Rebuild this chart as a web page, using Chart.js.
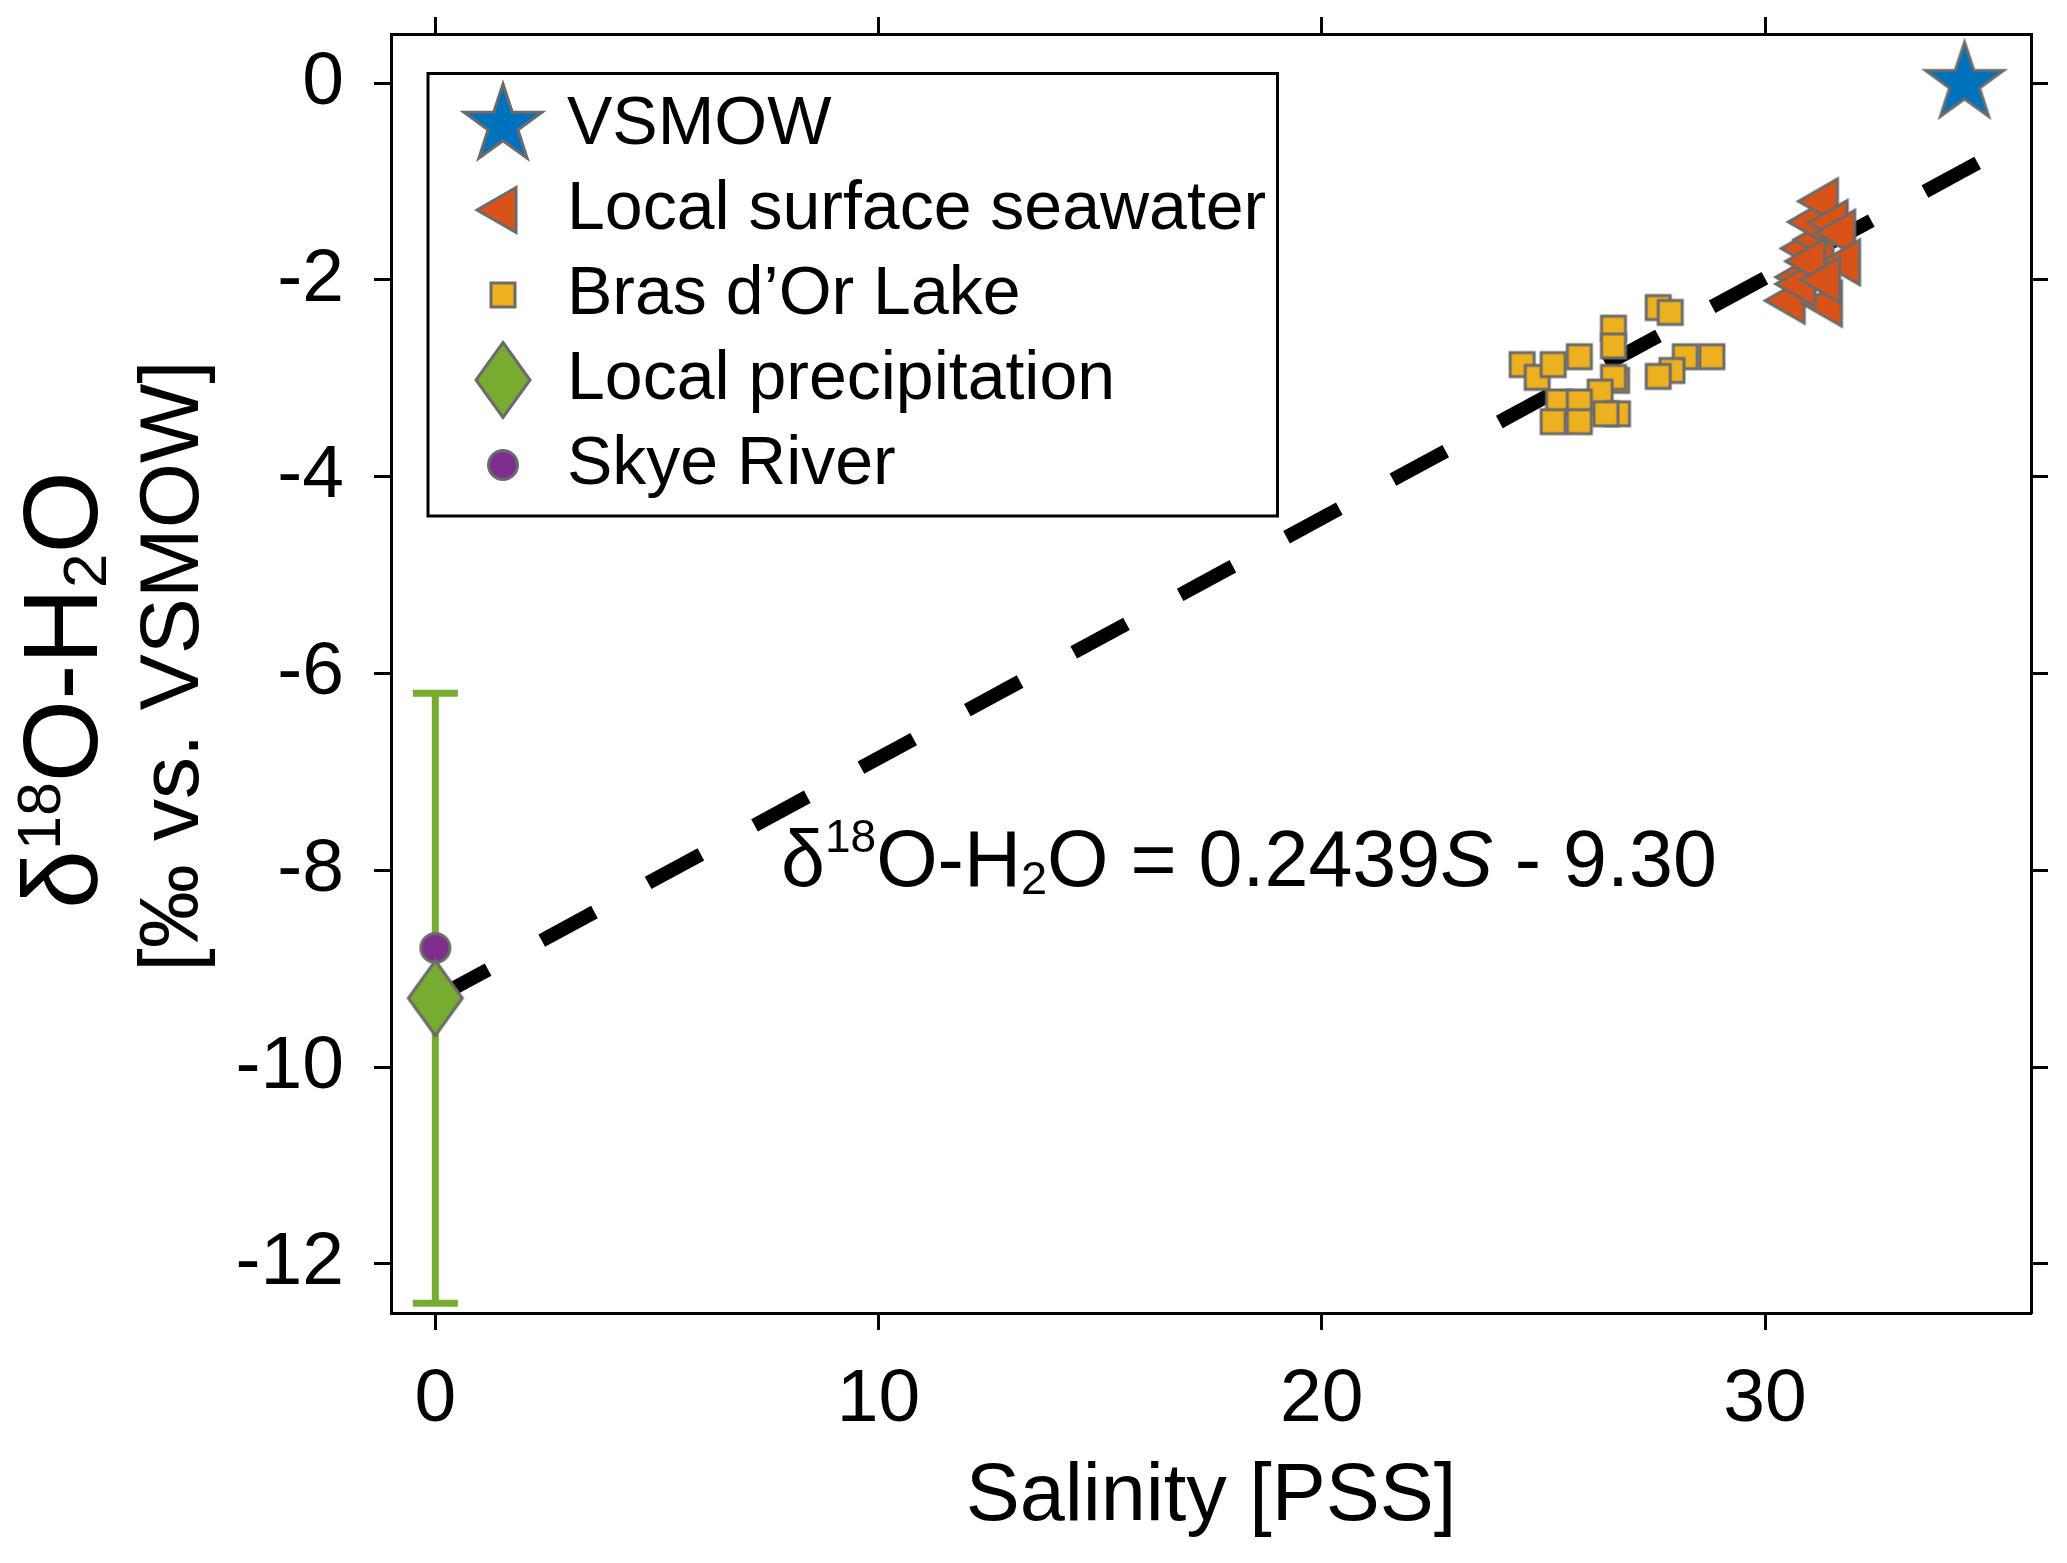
<!DOCTYPE html>
<html>
<head>
<meta charset="utf-8">
<title>Salinity vs d18O</title>
<script src="https://cdn.jsdelivr.net/npm/chart.js@4.4.1/dist/chart.umd.min.js"></script>
<style>
  html, body { margin: 0; padding: 0; background: #fff; overflow: hidden; }
  canvas { display: block; }
</style>
</head>
<body>
<canvas id="chart" width="2067" height="1563"></canvas>
<script>
// ==============================
// データ
// ==============================
const xTickVals = [0, 10, 20, 30];
const yTickVals = [-12, -10, -8, -6, -4, -2, 0];

const vsmowX = [34.5];
const vsmowY = [0];

const seawaterX = [30.59, 31.43, 30.83, 30.95, 31.24, 31.11, 31.34, 31.56, 31.73, 31.84, 30.83, 31.05, 31.39];
const seawaterY = [-2.21, -2.24, -1.97, -1.68, -1.59, -1.41, -1.20, -1.42, -1.52, -1.82, -2.04, -1.81, -2.00];

const lakeX = [24.52, 24.86, 25.22, 25.81, 26.58, 26.58, 27.59, 27.86, 28.20, 28.80,
               27.90, 27.59, 26.65, 26.58, 26.28, 25.34, 25.81, 25.22, 25.81, 26.67, 26.41];
const lakeY = [-2.86, -2.99, -2.86, -2.78, -2.49, -2.67, -2.28, -2.33, -2.78, -2.78,
               -2.92, -2.98, -3.02, -2.99, -3.14, -3.24, -3.24, -3.44, -3.44, -3.36, -3.36];

const precipX = [0];
const precipY = [-9.3];
const precipErrLow = [-12.4];
const precipErrHigh = [-6.2];

const skyeX = [0];
const skyeY = [-8.79];

// 回帰直線 δ18O-H2O = 0.2439S - 9.30
const fitX = [0, 34.8];
const fitY = [-9.30, -0.81];

const seriesNames = ["VSMOW", "Local surface seawater", "Bras d\u2019Or Lake", "Local precipitation", "Skye River"];

// ==============================
// 見た目
// ==============================
const FONT = '"Liberation Sans", Arial, Helvetica, sans-serif';
const EDGE = "#6b6b6b";

Chart.defaults.font.family = FONT;
Chart.defaults.color = "#000";

function toPoints(xs, ys) {
  return xs.map((x, i) => ({ x: x, y: ys[i] }));
}

// マーカー画像（凡例と散布点で共用）
function makeMarker(shape, fill) {
  const sizes = { star: [96, 96], tri: [64, 64], square: [34, 34], diamond: [64, 86], circle: [38, 38] };
  const [w, h] = sizes[shape];
  const c = document.createElement("canvas");
  c.width = w;
  c.height = h;
  const ctx = c.getContext("2d");
  ctx.translate(w / 2, h / 2);
  ctx.beginPath();
  if (shape === "star") {
    for (let i = 0; i < 10; i++) {
      const a = -Math.PI / 2 + i * Math.PI / 5;
      const r = i % 2 ? 15.8 : 41;
      ctx.lineTo(r * Math.cos(a), r * Math.sin(a));
    }
  } else if (shape === "tri") {
    const R = 26;
    for (let i = 0; i < 3; i++) {
      const a = Math.PI + i * 2 * Math.PI / 3;
      ctx.lineTo(R * Math.cos(a), R * Math.sin(a));
    }
  } else if (shape === "square") {
    ctx.rect(-12, -12, 24, 24);
  } else if (shape === "diamond") {
    ctx.moveTo(0, -37.5);
    ctx.lineTo(27, 0);
    ctx.lineTo(0, 37.5);
    ctx.lineTo(-27, 0);
  } else {
    ctx.arc(0, 0, 14.5, 0, Math.PI * 2);
  }
  ctx.closePath();
  ctx.fillStyle = fill;
  ctx.fill();
  ctx.lineWidth = 3;
  ctx.lineJoin = "miter";
  ctx.strokeStyle = EDGE;
  ctx.stroke();
  return c;
}

const markStar = makeMarker("star", "#0072BD");
const markTri = makeMarker("tri", "#D95319");
const markSquare = makeMarker("square", "#EDB120");
const markDiamond = makeMarker("diamond", "#77AC30");
const markCircle = makeMarker("circle", "#7E2F8E");

// ==============================
// プラグイン
// ==============================
// 誤差棒（降水）
const errorBars = {
  id: "errorBars",
  beforeDatasetsDraw(chart) {
    const { ctx, scales } = chart;
    ctx.save();
    ctx.strokeStyle = "#77AC30";
    ctx.lineWidth = 7;
    precipX.forEach((xv, i) => {
      const px = scales.x.getPixelForValue(xv);
      const lo = scales.y.getPixelForValue(precipErrLow[i]);
      const hi = scales.y.getPixelForValue(precipErrHigh[i]);
      ctx.beginPath();
      ctx.moveTo(px, lo);
      ctx.lineTo(px, hi);
      ctx.moveTo(px - 22.5, lo);
      ctx.lineTo(px + 22.5, lo);
      ctx.moveTo(px - 22.5, hi);
      ctx.lineTo(px + 22.5, hi);
      ctx.stroke();
    });
    ctx.restore();
  }
};

// 凡例を描画領域の左上へ
const legendMove = {
  id: "legendMove",
  afterLayout(chart) {
    const lg = chart.legend;
    if (!lg) return;
    lg.left = 456;
    lg.top = 74;
    lg.right = 1300;
    lg.bottom = 600;
    lg.width = lg.right - lg.left;
    lg.height = lg.bottom - lg.top;
  },
  afterDraw(chart) {
    const ctx = chart.ctx;
    ctx.save();
    ctx.strokeStyle = "#000";
    ctx.lineWidth = 3;
    ctx.strokeRect(428, 73.5, 849.5, 442.5);
    ctx.restore();
  }
};

// 上付き・下付きを含む文字列
function richWidth(ctx, segs) {
  let w = 0;
  segs.forEach(s => {
    ctx.font = `${s.italic ? "italic " : ""}${s.size}px ${FONT}`;
    w += ctx.measureText(s.text).width;
  });
  return w;
}

function drawRich(ctx, segs, x, y) {
  let cx = x;
  segs.forEach(s => {
    ctx.font = `${s.italic ? "italic " : ""}${s.size}px ${FONT}`;
    ctx.fillText(s.text, cx, y - (s.dy || 0));
    cx += ctx.measureText(s.text).width;
  });
}

const yTitle1 = [
  { text: "\u03b4", size: 106 },
  { text: "18", size: 61, dy: 37 },
  { text: "O-H", size: 106 },
  { text: "2", size: 62, dy: -9 },
  { text: "O", size: 106 }
];
const yTitle2 = [{ text: "[\u2030 vs. VSMOW]", size: 84 }];
const equation = [
  { text: "\u03b4", size: 79 },
  { text: "18", size: 46, dy: 34 },
  { text: "O-H", size: 79 },
  { text: "2", size: 47, dy: -8 },
  { text: "O = 0.2439", size: 79 },
  { text: "S", size: 79, italic: true },
  { text: " - 9.30", size: 79 }
];

const labelText = {
  id: "labelText",
  afterDraw(chart) {
    const ctx = chart.ctx;
    ctx.save();
    ctx.fillStyle = "#000";
    ctx.textAlign = "left";
    ctx.textBaseline = "alphabetic";

    // 縦軸タイトル（2行）
    [[yTitle1, 97, 690], [yTitle2, 198, 666]].forEach(([segs, bx, cy]) => {
      ctx.save();
      ctx.translate(bx, cy);
      ctx.rotate(-Math.PI / 2);
      drawRich(ctx, segs, -richWidth(ctx, segs) / 2, 0);
      ctx.restore();
    });

    // 回帰式
    drawRich(ctx, equation, 781, 886);
    ctx.restore();
  }
};

// ==============================
// 軸
// ==============================
function fixTicks(vals) {
  return scale => { scale.ticks = vals.map(v => ({ value: v })); };
}

// 軸の太さを固定し、ラベル用の余白を消す
function fixSize(prop, size) {
  return scale => {
    scale[prop] = size;
    scale.paddingTop = 0;
    scale.paddingBottom = 0;
    scale.paddingLeft = 0;
    scale.paddingRight = 0;
  };
}

const axisGrid = {
  drawOnChartArea: false,
  drawTicks: true,
  tickLength: 17,
  tickWidth: 3,
  tickColor: "#000"
};
const axisBorder = { display: true, color: "#000", width: 3 };

// ==============================
// チャート
// ==============================
new Chart(document.getElementById("chart"), {
  type: "scatter",
  data: {
    datasets: [
      {
        label: seriesNames[0],
        data: toPoints(vsmowX, vsmowY),
        pointStyle: markStar,
        pointRadius: 20,
        backgroundColor: "#0072BD",
        borderColor: EDGE
      },
      {
        label: seriesNames[1],
        data: toPoints(seawaterX, seawaterY),
        pointStyle: markTri,
        pointRadius: 14,
        backgroundColor: "#D95319",
        borderColor: EDGE
      },
      {
        label: seriesNames[2],
        data: toPoints(lakeX, lakeY),
        pointStyle: markSquare,
        pointRadius: 10,
        backgroundColor: "#EDB120",
        borderColor: EDGE
      },
      {
        label: seriesNames[3],
        data: toPoints(precipX, precipY),
        pointStyle: markDiamond,
        pointRadius: 18,
        backgroundColor: "#77AC30",
        borderColor: EDGE
      },
      {
        label: seriesNames[4],
        data: toPoints(skyeX, skyeY),
        pointStyle: markCircle,
        pointRadius: 10,
        backgroundColor: "#7E2F8E",
        borderColor: EDGE
      },
      {
        label: "fit",
        data: toPoints(fitX, fitY),
        showLine: true,
        pointRadius: 0,
        borderColor: "#000",
        borderWidth: 14,
        borderDash: [60, 61],
        borderCapStyle: "butt",
        order: 10
      }
    ]
  },
  options: {
    responsive: false,
    devicePixelRatio: 1,
    animation: false,
    events: [],
    layout: { padding: 0 },
    scales: {
      x: {
        type: "linear",
        position: "bottom",
        min: -1,
        max: 36,
        afterBuildTicks: fixTicks(xTickVals),
        afterFit: fixSize("height", 250),
        grid: axisGrid,
        border: axisBorder,
        ticks: { font: { size: 75 }, padding: 25, maxRotation: 0, color: "#000" },
        title: {
          display: true,
          text: "Salinity [PSS]",
          font: { size: 81 },
          color: "#000",
          padding: { top: 0, bottom: 17 }
        }
      },
      x2: {
        type: "linear",
        position: "top",
        min: -1,
        max: 36,
        afterBuildTicks: fixTicks(xTickVals),
        afterFit: fixSize("height", 34),
        grid: axisGrid,
        border: axisBorder,
        ticks: { display: false }
      },
      y: {
        type: "linear",
        position: "left",
        min: -12.5,
        max: 0.5,
        afterBuildTicks: fixTicks(yTickVals),
        afterFit: fixSize("width", 391),
        grid: axisGrid,
        border: axisBorder,
        ticks: { font: { size: 75 }, padding: 30, color: "#000", callback: v => String(v) }
      },
      y2: {
        type: "linear",
        position: "right",
        min: -12.5,
        max: 0.5,
        afterBuildTicks: fixTicks(yTickVals),
        afterFit: fixSize("width", 36),
        grid: axisGrid,
        border: axisBorder,
        ticks: { display: false }
      }
    },
    plugins: {
      tooltip: { enabled: false },
      legend: {
        display: true,
        position: "chartArea",
        align: "start",
        labels: {
          usePointStyle: true,
          boxWidth: 60,
          padding: 17,
          color: "#000",
          font: { size: 68 },
          filter: item => item.datasetIndex < 5
        }
      }
    }
  },
  plugins: [errorBars, legendMove, labelText]
});
</script>
</body>
</html>
